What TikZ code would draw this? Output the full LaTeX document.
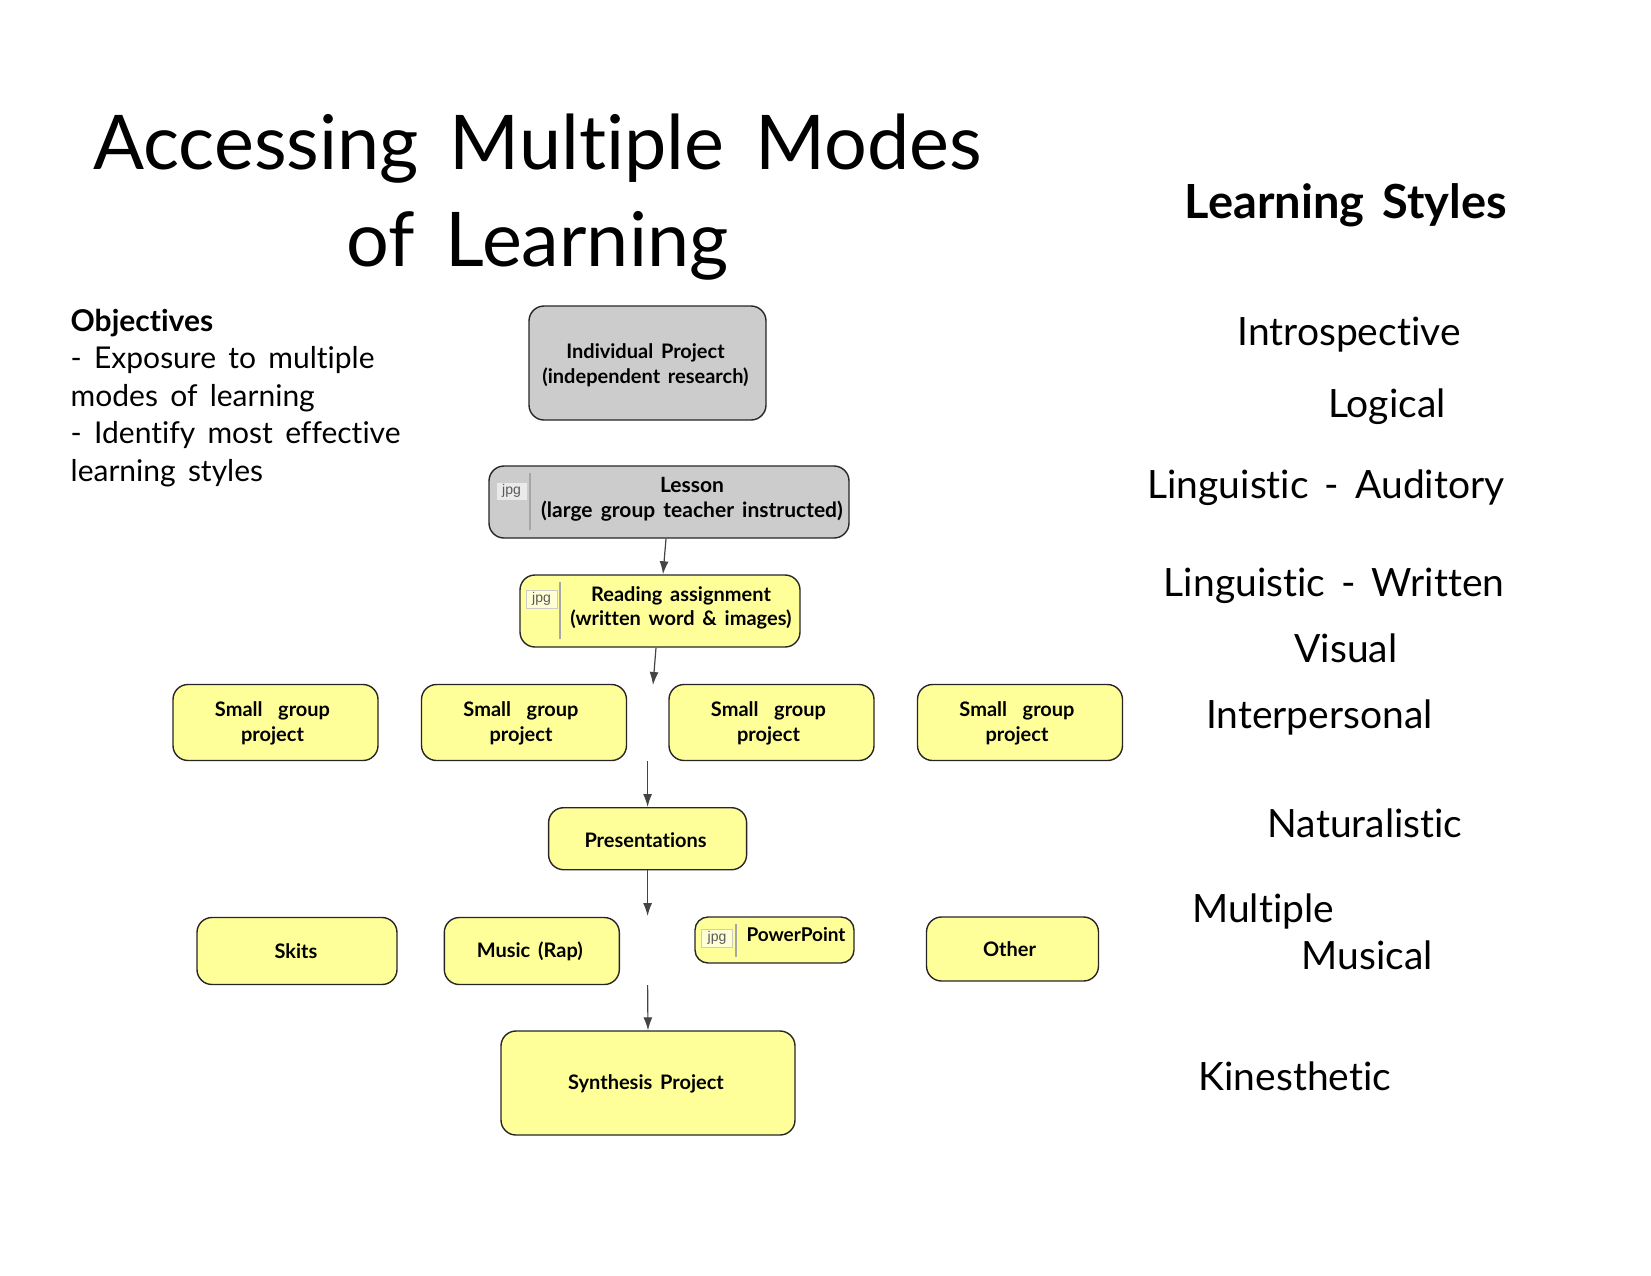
\documentclass[tikz,border=0pt]{standalone}
\usepackage{fontspec}
\setmainfont[WordSpace=1.6,Ligatures=NoCommon]{Lato}
\newfontfamily\badgefont{Liberation Sans}
\usetikzlibrary{arrows.meta,positioning}

\definecolor{stickyyellow}{HTML}{FFFF99}
\definecolor{stickygrey}{HTML}{CCCCCC}
\definecolor{flowgrey}{HTML}{444444}

\tikzset{
  greybox/.style={draw=black!85,line width=1.4pt,rounded corners=15pt,fill=stickygrey,inner sep=0pt},
  yellowbox/.style={greybox,fill=stickyyellow},
  boxtext/.style={align=center,font=\fontsize{20}{24.5}\selectfont\bfseries,inner sep=0pt},
  badge/.style={draw=black!20,fill=white,fill opacity=.6,text opacity=1,text=black!65,font=\badgefont\fontsize{14}{14}\selectfont,minimum width=31pt,minimum height=18pt,inner sep=0pt},
  divider/.style={draw=black!35,line width=1.2pt},
  flow/.style={draw=flowgrey,line width=1.2pt,-{Latex[length=13pt,width=9pt]}},
  titletext/.style={font=\fontsize{75.5}{97}\selectfont,align=center,inner sep=0pt},
  styletext/.style={font=\fontsize{39}{42}\selectfont,inner sep=0pt},
}

\begin{document}
\begin{tikzpicture}[x=1pt,y=-1pt]
\useasboundingbox (0,0) rectangle (1651,1275);

 \node[titletext] (title) at (537.5,197) {Accessing Multiple Modes\\of Learning};
 \node[styletext,font=\fontsize{47}{49}\selectfont\bfseries] (stylehead) at (1346,205) {Learning Styles};

 \node[anchor=north west,align=left,inner sep=0pt,font=\fontsize{30}{37.5}\selectfont] (objectives) at (70.5,309)
  {\textbf{Objectives}\\- Exposure to multiple\\modes of learning\\- Identify most effective\\learning styles};

 % the boxes, top to bottom
 \node[greybox,minimum width=237pt,minimum height=114pt] (individual) at (647.5,363) {};
 \node[boxtext] (individualtext) at (645.5,365) {Individual Project\\(independent research)};
 \node[greybox,minimum width=360pt,minimum height=72pt] (lesson) at (669,502) {};
 \node[boxtext,font=\fontsize{21}{24.5}\selectfont\bfseries] (lessontext) at (692,499.5) {Lesson\\(large group teacher instructed)};
 \node[badge] (lessonjpg) at (511.5,491) {jpg};
 \draw[divider] (530,473) -- (530,530);

 \node[yellowbox,minimum width=280pt,minimum height=72pt] (reading) at (660,611) {};
 \node[boxtext] (readingtext) at (681,608) {Reading assignment\\(written word \& images)};
 \node[badge] (readingjpg) at (541.5,599) {jpg};
 \draw[divider] (560,582) -- (560,639);

 \foreach \name/\x in {groupa/275.5,groupb/524,groupc/771.5,groupd/1020}{
  \node[yellowbox,minimum width=205pt,minimum height=76pt] (\name) at (\x,722.5) {};
  \node[boxtext] at (\x-3,723.5) {Small\ \ group\\project};
 }

 \node[yellowbox,minimum width=198pt,minimum height=62pt] (presentations) at (647.6,838.7) {};
 \node[boxtext] (presentationstext) at (645.6,839.7) {Presentations};

 \node[yellowbox,minimum width=200pt,minimum height=67pt] (skits) at (297,951) {};
 \node[boxtext] (skitstext) at (296,951) {Skits};
 \node[yellowbox,minimum width=175pt,minimum height=67pt] (music) at (531.8,951) {};
 \node[boxtext] (musictext) at (529.8,951) {Music (Rap)};
 \node[yellowbox,minimum width=159pt,minimum height=46pt,rounded corners=13pt] (powerpoint) at (774.5,940) {};
 \node[boxtext,font=\fontsize{19}{24.5}\selectfont\bfseries] (powerpointtext) at (796,935) {PowerPoint};
 \node[badge] (powerpointjpg) at (717,938) {jpg};
 \draw[divider] (736,924) -- (736,957);
 \node[yellowbox,minimum width=172pt,minimum height=64pt] (other) at (1012.5,949) {};
 \node[boxtext] (othertext) at (1009.5,949.5) {Other};

 \node[yellowbox,minimum width=294pt,minimum height=104pt] (synthesis) at (648,1083) {};
 \node[boxtext] (synthesistext) at (646,1084) {Synthesis Project};

 % loose ends of the arrows
 \coordinate (groupsin) at (653,685);
 \coordinate (groupsout) at (647.6,761);
 \coordinate (talksin) at (647.6,916);
 \coordinate (talksout) at (647.6,985);

 \draw[flow] ([xshift=-3pt]lesson.south) -- ([xshift=3pt]reading.north);
 \draw[flow] ([xshift=-4pt]reading.south) -- (groupsin);
 \draw[flow] (groupsout) -- (presentations.north);
 \draw[flow] (presentations.south) -- (talksin);
 \draw[flow] (talksout) -- (synthesis.north);

 % the learning styles down the right side
 \node[styletext] (introspective) at (1349,335) {Introspective};
 \node[styletext] (logical) at (1387,407) {Logical};
 \node[styletext] (auditory) at (1326,488) {Linguistic - Auditory};
 \node[styletext] (written) at (1334,586) {Linguistic - Written};
 \node[styletext] (visual) at (1346,648) {Visual};
 \node[styletext] (interpersonal) at (1319.5,717) {Interpersonal};
 \node[styletext] (naturalistic) at (1365,823) {Naturalistic};
 \node[styletext] (multiple) at (1263,911) {Multiple};
 \node[styletext] (musical) at (1367,955) {Musical};
 \node[styletext] (kinesthetic) at (1295,1076) {Kinesthetic};
\end{tikzpicture}
\end{document}
